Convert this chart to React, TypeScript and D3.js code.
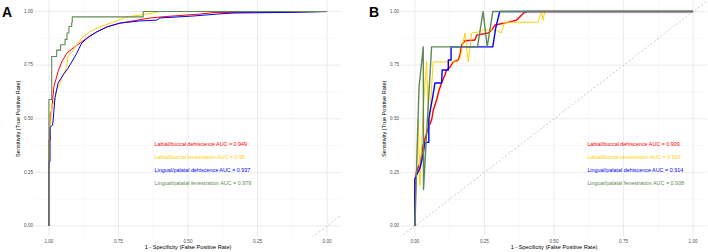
import React from "react";
import * as d3 from "d3";

// series names, colours, AUC labels
const categories = [
  "Labial/buccal dehiscence",
  "Labial/buccal fenestration",
  "Lingual/palatal dehiscence",
  "Lingual/palatal fenestration",
];
const colors = ["#FF0000", "#FFD000", "#0000FF", "#5F8A55"];
const aucA = ["0.949", "0.95", "0.937", "0.979"];
const aucB = ["0.909", "0.916", "0.914", "0.938"];

const ticks = [0, 0.25, 0.5, 0.75, 1];
const tickLabels = ["0.00", "0.25", "0.50", "0.75", "1.00"];
const minorTicks = [0.125, 0.375, 0.625, 0.875];

// panel A: [specificity, sensitivity]
const redA = [
  [1, 0], [1, 0.4], [0.995, 0.4], [0.995, 0.52], [0.99, 0.54], [0.982, 0.65],
  [0.967, 0.72], [0.954, 0.765], [0.936, 0.805], [0.913, 0.83], [0.888, 0.853],
  [0.864, 0.876], [0.828, 0.905], [0.792, 0.928], [0.744, 0.946], [0.698, 0.956],
  [0.637, 0.97], [0.576, 0.977], [0.457, 0.988], [0.41, 0.995], [0.194, 0.997], [0, 1],
];
const yellowA = [
  [1, 0], [1, 0.35], [0.995, 0.45], [0.992, 0.52], [0.99, 0.555], [0.978, 0.587],
  [0.972, 0.634], [0.96, 0.667], [0.949, 0.704], [0.936, 0.74], [0.931, 0.79],
  [0.918, 0.81], [0.9, 0.844], [0.882, 0.876], [0.853, 0.906], [0.817, 0.928],
  [0.77, 0.95], [0.719, 0.975], [0.673, 0.983], [0.626, 0.993], [0.601, 1], [0, 1],
];
const blueA = [
  [1, 0], [1, 0.3], [0.996, 0.3], [0.996, 0.46], [0.987, 0.47], [0.985, 0.49],
  [0.978, 0.6], [0.967, 0.667], [0.949, 0.704], [0.931, 0.736], [0.918, 0.765],
  [0.9, 0.805], [0.882, 0.853], [0.859, 0.88], [0.828, 0.905], [0.792, 0.928],
  [0.745, 0.946], [0.673, 0.956], [0.612, 0.96], [0.601, 0.97], [0.482, 0.979],
  [0.396, 0.988], [0.338, 0.993], [0.133, 0.996], [0, 1],
];
const greenA = [
  [1, 0], [1, 0.59], [0.99, 0.59], [0.99, 0.79], [0.972, 0.79], [0.972, 0.82],
  [0.958, 0.82], [0.958, 0.845], [0.942, 0.845], [0.942, 0.87], [0.935, 0.87],
  [0.935, 0.9], [0.928, 0.9], [0.928, 0.93], [0.918, 0.93], [0.918, 0.95],
  [0.916, 0.95], [0.916, 0.975], [0.661, 0.975], [0.661, 1], [0, 1],
];

// panel B: [false positive rate, sensitivity]
const redB = [
  [0, 0], [0, 0.2], [0.005, 0.25], [0.02, 0.3], [0.03, 0.38], [0.048, 0.457],
  [0.06, 0.494], [0.066, 0.54], [0.078, 0.587], [0.087, 0.634], [0.096, 0.667],
  [0.108, 0.704], [0.114, 0.727], [0.126, 0.74], [0.138, 0.765], [0.156, 0.774],
  [0.162, 0.797], [0.168, 0.844], [0.18, 0.864], [0.216, 0.867], [0.222, 0.89],
  [0.263, 0.9], [0.276, 0.914], [0.288, 0.937], [0.33, 0.948], [0.366, 0.96],
  [0.39, 0.992], [0.402, 1], [1, 1],
];
const yellowB = [
  [0, 0], [0.005, 0.25], [0.012, 0.5], [0.018, 0.19], [0.03, 0.55], [0.042, 0.765],
  [0.05, 0.45], [0.066, 0.765], [0.15, 0.765], [0.162, 0.78], [0.18, 0.9],
  [0.192, 0.765], [0.204, 0.9], [0.235, 0.906], [0.245, 0.914], [0.29, 0.914],
  [0.31, 0.9], [0.322, 0.95], [0.443, 0.95], [0.455, 1], [0.461, 0.96], [0.467, 1], [1, 1],
];
const blueB = [
  [0, 0], [0, 0.22], [0.018, 0.27], [0.024, 0.3], [0.03, 0.34], [0.036, 0.39],
  [0.05, 0.39], [0.05, 0.5], [0.065, 0.61], [0.072, 0.667], [0.096, 0.667],
  [0.098, 0.727], [0.12, 0.727], [0.12, 0.774], [0.13, 0.774], [0.13, 0.835],
  [0.28, 0.835], [0.29, 0.92], [0.305, 1], [1, 1],
];
const greenB = [
  [0, 0], [0.004, 0.17], [0.01, 0.45], [0.015, 0.65], [0.03, 0.835], [0.031, 0.17],
  [0.045, 0.5], [0.06, 0.835], [0.225, 0.835], [0.245, 1], [0.26, 0.835], [0.28, 1], [1, 1],
];

const seriesA = [redA, yellowA, blueA, greenA];
const seriesB = [redB, yellowB, blueB, greenB];

const W = 708;
const H = 252;
const top = 0.8;
const bottom = 236.7;

const y = d3.scaleLinear().domain([-0.05, 1.05]).range([bottom, top]);

function Panel({ label, left, right, reversed, series, aucs, widths, offsetX }) {
  const x = d3
    .scaleLinear()
    .domain(reversed ? [1.05, -0.05] : [-0.05, 1.05])
    .range([left, right]);
  const line = d3
    .line()
    .x((d) => x(d[0]))
    .y((d) => y(d[1]));
  const clipId = "clip-" + label;
  // reference line y = x in transformed x space
  const ext = reversed ? [0.2, -0.2] : [-0.2, 1.2];
  const diag = ext.map((v) => [v, reversed ? -v : v]);
  const midX = (x(0) + x(1)) / 2;
  return (
    <g>
      <defs>
        <clipPath id={clipId}>
          <rect x={left} y={top} width={right - left} height={bottom - top} />
        </clipPath>
      </defs>
      {minorTicks.map((t) => (
        <g key={"m" + t} stroke="#F0F0F0" strokeWidth={0.5}>
          <line x1={left} x2={right} y1={y(t)} y2={y(t)} />
          <line x1={x(t)} x2={x(t)} y1={top} y2={bottom} />
        </g>
      ))}
      {ticks.map((t) => (
        <g key={"M" + t} stroke="#EBEBEB" strokeWidth={1}>
          <line x1={left} x2={right} y1={y(t)} y2={y(t)} />
          <line x1={x(t)} x2={x(t)} y1={top} y2={bottom} />
        </g>
      ))}
      <path
        d={line(diag)}
        clipPath={`url(#${clipId})`}
        fill="none"
        stroke="#B0B0B0"
        strokeWidth={0.7}
        strokeDasharray="2,2"
      />
      {series.map((s, i) => (
        <path
          key={i}
          d={line(s)}
          fill="none"
          stroke={colors[i]}
          strokeWidth={widths[i]}
          strokeLinejoin="round"
        />
      ))}
      {ticks.map((t, i) => (
        <text
          key={"yl" + t}
          x={left - 2}
          y={y(t)}
          fontSize={4.6}
          fill="#4D4D4D"
          textAnchor="end"
          dominantBaseline="middle"
        >
          {tickLabels[i]}
        </text>
      ))}
      {ticks.map((t, i) => (
        <text
          key={"xl" + t}
          x={x(t)}
          y={241.5}
          fontSize={4.6}
          fill="#4D4D4D"
          textAnchor="middle"
          dominantBaseline="middle"
        >
          {tickLabels[i]}
        </text>
      ))}
      <text x={midX} y={249} fontSize={5.6} fill="#000" textAnchor="middle">
        1 - Specificity (False Positive Rate)
      </text>
      <text
        transform={`translate(${left - 15},${(y(0) + y(1)) / 2}) rotate(-90)`}
        fontSize={5.6}
        fill="#000"
        textAnchor="middle"
      >
        Sensitivity (True Positive Rate)
      </text>
      {categories.map((c, i) => (
        <text
          key={c}
          x={x(0.62)}
          y={y(0.38 - i * 0.06)}
          fontSize={5.4}
          fill={colors[i]}
          dominantBaseline="middle"
        >
          {`${c} AUC = ${aucs[i]}`}
        </text>
      ))}
      <text x={offsetX} y={17} fontSize={14} fontWeight="bold" fill="#000">
        {label}
      </text>
    </g>
  );
}

export default function App() {
  return (
    <div style={{ position: "fixed", left: 0, top: 0 }}>
      <svg
        width={W}
        height={H}
        style={{ display: "block", background: "#fff", fontFamily: "Liberation Sans, Arial, sans-serif" }}
      >
        <Panel
          label="A"
          left={35}
          right={341}
          reversed={true}
          series={seriesA}
          aucs={aucA}
          widths={[1, 1, 1, 1.1]}
          offsetX={2}
        />
        <Panel
          label="B"
          left={401}
          right={707}
          reversed={false}
          series={seriesB}
          aucs={aucB}
          widths={[1.4, 1, 1.4, 1.4]}
          offsetX={369}
        />
      </svg>
    </div>
  );
}
